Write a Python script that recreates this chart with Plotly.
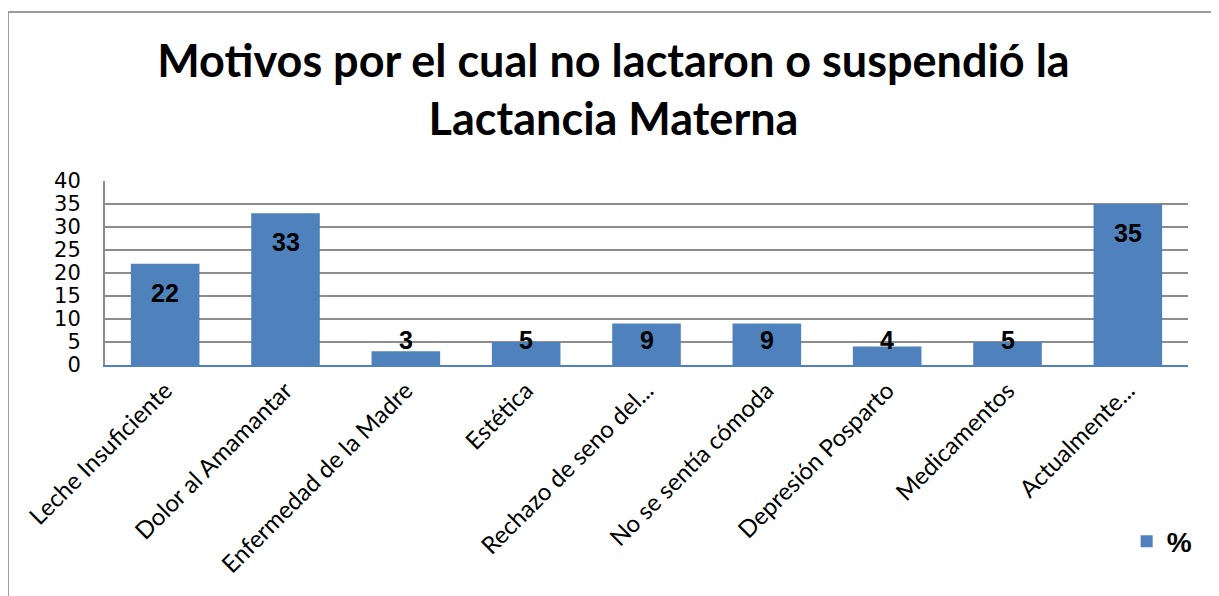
import plotly.graph_objects as go

categorias = [
    "Leche Insuficiente",
    "Dolor al Amamantar",
    "Enfermedad de la Madre",
    "Estética",
    "Rechazo de seno del...",
    "No se sentía cómoda",
    "Depresión Posparto",
    "Medicamentos",
    "Actualmente...",
]
porcentajes = [22, 33, 3, 5, 9, 9, 4, 5, 35]
serie = "%"
y_ticks = [0, 5, 10, 15, 20, 25, 30, 35, 40]

azul = "#4F81BD"

fig = go.Figure(
    go.Bar(
        x=categorias,
        y=porcentajes,
        name="<b>%s</b>" % serie,
        marker_color=azul,
        marker_line_width=0,
        showlegend=True,
    )
)

# etiquetas de datos (dentro del extremo de la barra, sin bajar del eje)
for cat, v in zip(categorias, porcentajes):
    fig.add_annotation(
        x=cat, y=max(v - 6.3, 5.4), text="<b>%d</b>" % v,
        showarrow=False, yanchor="middle",
        font=dict(family="Liberation Sans, Arial", size=25, color="black"),
    )

# marco exterior del gráfico
fig.add_shape(
    type="rect", xref="paper", yref="paper",
    x0=-0.0896, x1=1.026, y0=-1.35, y1=1.918,
    line=dict(color="#9a9a9a", width=2), fillcolor="rgba(0,0,0,0)",
)

# la página añade 8px de margen al cuerpo
fig.update_layout(
    width=1211, height=588,
    margin=dict(l=97, r=31, t=173, b=231, autoexpand=False),
    paper_bgcolor="white", plot_bgcolor="white",
    title=dict(
        text="<b>Motivos por el cual no lactaron o suspendió la<br>Lactancia Materna</b>",
        x=0.5, xanchor="center", y=0.883, yanchor="top",
        font=dict(family="Lato", size=45, color="black"),
    ),
    bargap=0.43,
    showlegend=True,
    legend=dict(
        x=1.008, y=-0.96, xanchor="right", yanchor="middle",
        font=dict(family="Liberation Sans, Arial", size=28, color="black"),
        itemwidth=30, bgcolor="rgba(0,0,0,0)",
    ),
    xaxis=dict(
        tickangle=-45, automargin=False,
        tickfont=dict(family="Lato", size=24, color="black"),
        showline=True, linecolor=azul, linewidth=2,
        showgrid=False, ticks="",
    ),
    yaxis=dict(
        range=[0, 40], tickvals=y_ticks, automargin=False,
        tickfont=dict(family="DejaVu Sans", size=21, color="black"),
        showgrid=True, gridcolor="#8c8c8c", gridwidth=2,
        showline=True, linecolor="#8c8c8c", linewidth=2,
        zeroline=False, ticks="", ticklabelstandoff=18,
    ),
)

fig.write_html("out.html")
